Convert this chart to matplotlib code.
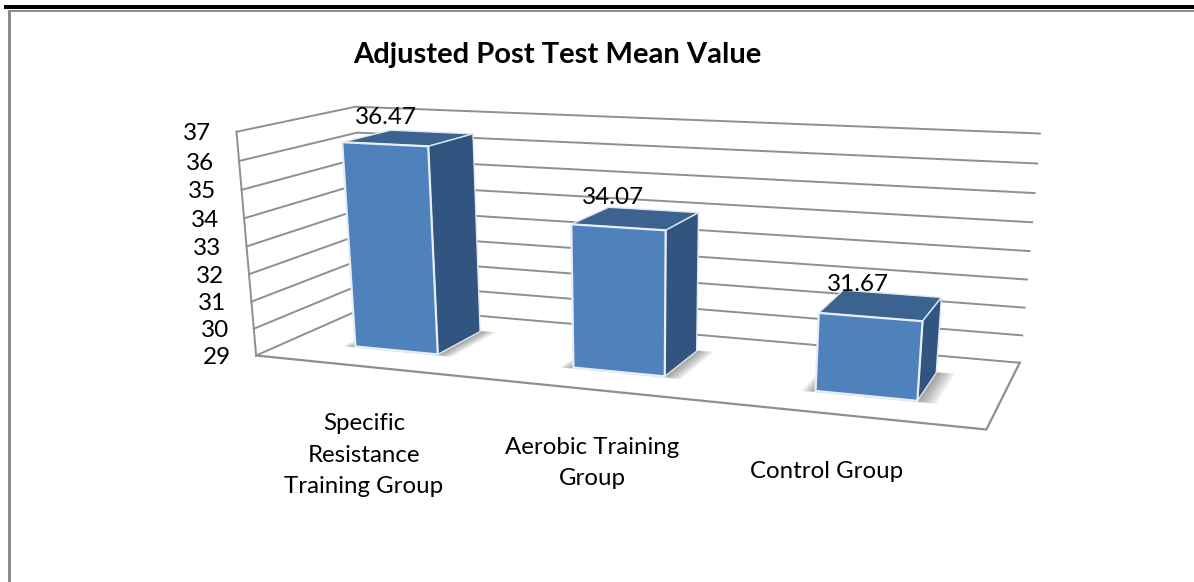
import numpy as np
import matplotlib
matplotlib.use("Agg")
import matplotlib.pyplot as plt
from matplotlib.patches import Polygon, Rectangle

plt.rcParams['font.family'] = ['Lato', 'DejaVu Sans']

title = "Adjusted Post Test Mean Value"
categories = ["Specific\nResistance\nTraining Group", "Aerobic Training\nGroup", "Control Group"]
values = [36.47, 34.07, 31.67]
ticks = [29, 30, 31, 32, 33, 34, 35, 36, 37]

# box corners (across, depth, height) -> pixel, used to fit the perspective
box = [(0, 0, 0), (0, 0, 1), (0, 1, 0), (0, 1, 1), (1, 1, 0), (1, 1, 1), (1, 0, 0)]
pix = [(256, 355), (237, 131), (368, 307), (355, 107), (1020, 361), (1040, 134), (986, 431)]

A, b = [], []
for (X, Y, Z), (px, py) in zip(box, pix):
    A.append([X, Y, Z, 1, 0, 0, 0, 0, -px * X, -px * Y, -px * Z])
    A.append([0, 0, 0, 0, X, Y, Z, 1, -py * X, -py * Y, -py * Z])
    b += [px, py]
P = np.append(np.linalg.lstsq(np.array(A, float), np.array(b, float), rcond=None)[0], 1).reshape(3, 4)


def proj(u, d, v):
    t = (v - ticks[0]) / (ticks[-1] - ticks[0])
    q = P @ np.array([u, d, t, 1.0])
    return q[0] / q[2], q[1] / q[2]


fig = plt.figure(figsize=(11.94, 5.82), dpi=100)
ax = fig.add_axes([0, 0, 1, 1])
ax.set_xlim(0, 1194)
ax.set_ylim(582, 0)
ax.axis("off")

# page frame
ax.add_patch(Rectangle((4, 5), 1190, 4, color="black", lw=0))
ax.add_patch(Rectangle((8, 10), 1186, 2, color="#8c8c8c", lw=0))
ax.add_patch(Rectangle((8, 10), 3, 572, color="#8c8c8c", lw=0))

grid = "#8f8f8f"
for v in ticks:
    pts = [proj(0, 0, v), proj(0, 1, v), proj(1, 1, v)]
    ax.plot(*zip(*pts), color=grid, lw=1.4, solid_joinstyle="miter", zorder=1)
    x, y = proj(0, 0, v)
    ax.text(x - 25, y + 2, str(v), ha="right", va="center", fontsize=17.5)
ax.plot(*zip(proj(0, 0, ticks[0]), proj(0, 0, ticks[-1])), color=grid, lw=1.4, zorder=1)
ax.plot(*zip(proj(0, 0, ticks[0]), proj(1, 0, ticks[0]), proj(1, 1, ticks[0])), color=grid, lw=1.6, zorder=1)

half = 0.065
d0, d1 = 0.285, 0.72
base = ticks[0]
for i, val in enumerate(values):
    c = (i + 0.5) / 3 + 0.004
    u0, u1 = c - half, c + half

    # soft shadow round the foot of the bar
    for k in np.linspace(0.035, 0.002, 14):
        foot = [proj(u0 - k * 0.5, d0 - k * 0.6, base), proj(u1 + k * 0.7, d0 - k * 0.6, base),
                proj(u1 + k * 0.7, d1 + k * 0.4, base), proj(u0 - k * 0.5, d1 + k * 0.4, base)]
        ax.add_patch(Polygon(foot, fc="#303030", ec="none", alpha=0.04, zorder=2))

    top = [proj(u0, d0, val), proj(u1, d0, val), proj(u1, d1, val), proj(u0, d1, val)]
    side = [proj(u1, d0, base), proj(u1, d1, base), proj(u1, d1, val), proj(u1, d0, val)]
    front = [proj(u0, d0, base), proj(u1, d0, base), proj(u1, d0, val), proj(u0, d0, val)]
    ax.add_patch(Polygon(top, fc="#3c628f", ec="#dfe6ef", lw=1.0, joinstyle="round", zorder=3))
    ax.add_patch(Polygon(side, fc="#325480", ec="#dfe6ef", lw=1.0, joinstyle="round", zorder=3))
    ax.add_patch(Polygon(front, fc="#4f81bd", ec="#e8eef6", lw=1.6, joinstyle="round", zorder=3))

    x, y = proj(c, 0.5, val)
    ax.text(x - 23, y - 21, f"{val:.2f}", ha="center", va="center", fontsize=17.5, zorder=5)

ax.text(557, 55, title, ha="center", va="center", fontsize=21, fontweight="bold")

label_pos = [(364, 455), (592, 463), (827, 472)]
for name, (x, y) in zip(categories, label_pos):
    ax.text(x, y, name, ha="center", va="center", fontsize=17.3, linespacing=1.63)

fig.savefig("out.png", dpi=100)
